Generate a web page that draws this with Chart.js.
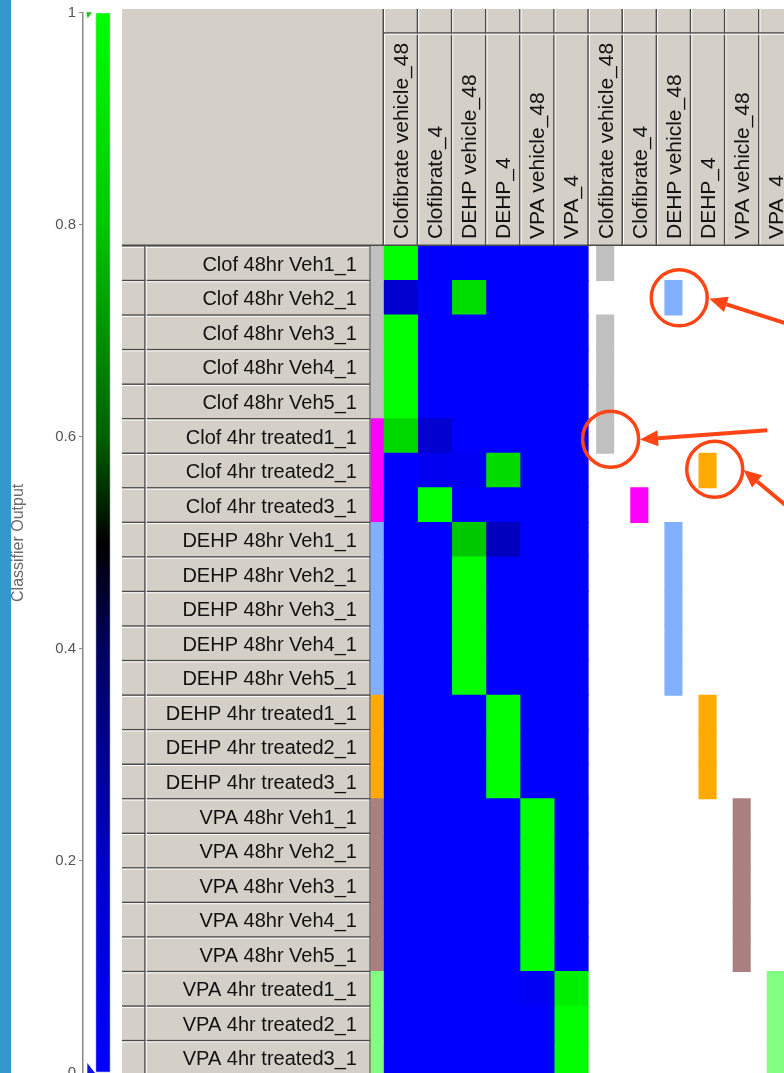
<!DOCTYPE html>
<html>
<head>
<meta charset="utf-8">
<script src="https://cdn.jsdelivr.net/npm/chart.js@4.4.1/dist/chart.umd.min.js"></script>
<style>
  html, body { margin: 0; padding: 0; background: #fff; overflow: hidden; width: 784px; height: 1073px; }
  #edge { position: absolute; left: 0; top: 0; width: 11px; height: 1073px; background: #3399CC; }
  #scale { position: absolute; left: 0; top: 0; }
  #grid { position: absolute; left: 122px; top: 0; }
</style>
</head>
<body>
<div id="edge"></div>
<canvas id="scale" width="122" height="1090"></canvas>
<canvas id="grid" width="700" height="1090"></canvas>
<script>
// ---- samples (rows) ----
const rowLabels = [
  'Clof 48hr Veh1_1', 'Clof 48hr Veh2_1', 'Clof 48hr Veh3_1', 'Clof 48hr Veh4_1', 'Clof 48hr Veh5_1',
  'Clof 4hr treated1_1', 'Clof 4hr treated2_1', 'Clof 4hr treated3_1',
  'DEHP 48hr Veh1_1', 'DEHP 48hr Veh2_1', 'DEHP 48hr Veh3_1', 'DEHP 48hr Veh4_1', 'DEHP 48hr Veh5_1',
  'DEHP 4hr treated1_1', 'DEHP 4hr treated2_1', 'DEHP 4hr treated3_1',
  'VPA 48hr Veh1_1', 'VPA 48hr Veh2_1', 'VPA 48hr Veh3_1', 'VPA 48hr Veh4_1', 'VPA 48hr Veh5_1',
  'VPA 4hr treated1_1', 'VPA 4hr treated2_1', 'VPA 4hr treated3_1'
];

// ---- classes (columns) ----
const classLabels = ['Clofibrate vehicle_48', 'Clofibrate_4', 'DEHP vehicle_48', 'DEHP_4', 'VPA vehicle_48', 'VPA_4'];
const classColors = ['#C0C0C0', '#FF00FF', '#80B0FF', '#FFAA00', '#AA7F7F', '#80FF80'];
const sampleClass = [0, 0, 0, 0, 0, 1, 1, 1, 2, 2, 2, 2, 2, 3, 3, 3, 4, 4, 4, 4, 4, 5, 5, 5];

// ---- classifier output for each class, one value per sample ----
const outClofVeh48 = [1.00, 0.17, 1.00, 1.00, 1.00, 0.86, 0.00, 0.00, 0, 0, 0, 0, 0, 0, 0, 0, 0, 0, 0, 0, 0, 0, 0, 0];
const outClof4     = [0.01, 0.00, 0.00, 0.00, 0.00, 0.17, 0.05, 1.00, 0, 0, 0, 0, 0, 0, 0, 0, 0, 0, 0, 0, 0, 0, 0, 0];
const outDehpVeh48 = [0, 0.88, 0, 0, 0, 0, 0.04, 0, 0.80, 1, 1, 1, 1, 0, 0, 0, 0, 0, 0, 0, 0, 0, 0, 0];
const outDehp4     = [0, 0, 0, 0, 0, 0, 0.87, 0, 0.22, 0, 0, 0, 0, 1, 1, 1, 0, 0, 0, 0, 0, 0, 0, 0];
const outVpaVeh48  = [0, 0, 0, 0, 0, 0, 0, 0, 0, 0, 0, 0, 0, 0, 0, 0, 1, 1, 1, 1, 1, 0.04, 0, 0];
const outVpa4      = [0, 0, 0, 0, 0, 0, 0, 0, 0, 0, 0, 0, 0, 0, 0, 0, 0, 0, 0, 0, 0, 0.94, 1, 1];
const outputs = [outClofVeh48, outClof4, outDehpVeh48, outDehp4, outVpaVeh48, outVpa4];

// ---- colour scale ----
const scaleTicks = [0, 0.2, 0.4, 0.6, 0.8, 1];
const cmapStops  = [0, 0.2, 0.4, 0.5, 0.6, 0.8, 1];
const cmapColors = [[0, 0, 255], [0, 0, 200], [0, 0, 96], [0, 0, 0], [0, 96, 0], [0, 200, 0], [0, 255, 0]];

// ---- call-outs (data units: x = column, y = row index) ----
const calloutRings  = [{ x: 8.67, y: 1.00 }, { x: 6.66, y: 5.09 }, { x: 9.71, y: 5.96 }];
const calloutArrows = [
  { from: { x: 12.21, y: 1.87 }, to: { x: 9.55, y: 1.03 } },
  { from: { x: 11.25, y: 4.83 }, to: { x: 7.52, y: 5.10 } },
  { from: { x: 12.21, y: 7.35 }, to: { x: 10.55, y: 5.98 } }
];

const FONT = "'Liberation Sans', Arial, sans-serif";
const nCls = classLabels.length;
const headerLabels = classLabels.concat(classLabels);
const stripWidth = 0.37;

function cmap(v) {
  for (let i = 1; i < cmapStops.length; i++) {
    if (v <= cmapStops[i]) {
      const t = (v - cmapStops[i - 1]) / (cmapStops[i] - cmapStops[i - 1]);
      const a = cmapColors[i - 1], b = cmapColors[i];
      return 'rgb(' + a.map((c, k) => Math.round(c + (b[k] - c) * t)).join(',') + ')';
    }
  }
  return 'rgb(' + cmapColors[cmapColors.length - 1].join(',') + ')';
}

// predicted class = highest classifier output per sample
const predicted = rowLabels.map((_, r) => {
  let best = 0;
  outputs.forEach((o, k) => { if (o[r] > outputs[best][r]) best = k; });
  return best;
});

const barBase = {
  grouped: false, barPercentage: 1, categoryPercentage: 1,
  borderWidth: 0, borderSkipped: false, inflateAmount: 0.5
};

const datasets = [];
// true-class strip
datasets.push(Object.assign({
  data: sampleClass.map(() => [-stripWidth, 0]),
  backgroundColor: sampleClass.map(k => classColors[k])
}, barBase));
// classifier-output cells
outputs.forEach((o, c) => {
  datasets.push(Object.assign({
    data: o.map(() => [c, c + 1]),
    backgroundColor: o.map(cmap)
  }, barBase));
});
// predicted-class markers
classColors.forEach((col, k) => {
  datasets.push(Object.assign({
    data: predicted.map(p => (p === k ? [nCls + k + 0.25, nCls + k + 0.75] : null)),
    backgroundColor: col
  }, barBase));
});

// grey table chrome behind the labels
const tableChrome = {
  id: 'tableChrome',
  beforeDraw(chart) {
    const { ctx, chartArea: a, scales: { x, y } } = chart;
    const W = chart.width, H = chart.height;
    const dark = '#4a4a4a', light = '#ffffff';
    const top = 9, strip = 33;
    ctx.save();
    ctx.fillStyle = '#D4D0C8';
    ctx.fillRect(0, top, W, a.top - top);
    ctx.fillRect(0, a.top, a.left, H - a.top);

    const x0 = x.getPixelForValue(0);
    // column header cells
    for (let c = 0; c <= 2 * nCls; c++) {
      const px = x.getPixelForValue(c);
      ctx.fillStyle = dark;
      ctx.fillRect(px - 0.75, top, 1.5, a.top - top);
      ctx.fillStyle = light;
      ctx.fillRect(px + 0.75, top, 1, a.top - top);
    }
    ctx.fillStyle = dark;
    ctx.fillRect(x0, strip - 0.75, W - x0, 1.5);
    ctx.fillStyle = light;
    ctx.fillRect(x0 + 1.5, strip + 0.75, W - x0, 1);
    ctx.fillStyle = dark;
    ctx.fillRect(0, a.top - 1.5, W, 1.5);

    // row header cells
    for (let r = 0; r <= rowLabels.length; r++) {
      const py = y.getPixelForValue(r - 0.5);
      ctx.fillStyle = dark;
      ctx.fillRect(0, py - 0.75, a.left, 1.5);
      ctx.fillStyle = light;
      ctx.fillRect(0, py + 0.75, a.left - 1, 1);
    }
    const divX = 23;
    ctx.fillStyle = dark;
    ctx.fillRect(divX - 0.75, a.top, 1.5, H - a.top);
    ctx.fillRect(a.left - 1.2, a.top, 1.2, H - a.top);
    ctx.fillStyle = light;
    ctx.fillRect(divX + 0.75, a.top, 1, H - a.top);
    ctx.restore();
  },
  afterDraw(chart) {
    const { ctx, scales: { x, y } } = chart;
    const red = '#FF4515';
    ctx.save();
    ctx.strokeStyle = red;
    ctx.fillStyle = red;
    ctx.lineWidth = 3.5;
    calloutRings.forEach(p => {
      ctx.beginPath();
      ctx.arc(x.getPixelForValue(p.x), y.getPixelForValue(p.y), 28, 0, Math.PI * 2);
      ctx.stroke();
    });
    calloutArrows.forEach(ar => {
      const fx = x.getPixelForValue(ar.from.x), fy = y.getPixelForValue(ar.from.y);
      const tx = x.getPixelForValue(ar.to.x), ty = y.getPixelForValue(ar.to.y);
      const ang = Math.atan2(ty - fy, tx - fx);
      const headLen = 18, headHalf = 8;
      const bx = tx - headLen * Math.cos(ang), by = ty - headLen * Math.sin(ang);
      ctx.lineWidth = 4;
      ctx.beginPath();
      ctx.moveTo(fx, fy);
      ctx.lineTo(bx, by);
      ctx.stroke();
      ctx.beginPath();
      ctx.moveTo(tx, ty);
      ctx.lineTo(bx + headHalf * Math.sin(ang), by - headHalf * Math.cos(ang));
      ctx.lineTo(bx - headHalf * Math.sin(ang), by + headHalf * Math.cos(ang));
      ctx.closePath();
      ctx.fill();
    });
    ctx.restore();
  }
};

new Chart(document.getElementById('grid'), {
  type: 'bar',
  data: { labels: rowLabels, datasets },
  options: {
    indexAxis: 'y',
    responsive: false,
    animation: false,
    events: [],
    layout: { padding: { top: 0, left: 0, right: 29.1, bottom: 14.8 } },
    plugins: { legend: { display: false }, tooltip: { enabled: false } },
    scales: {
      x: {
        type: 'linear',
        position: 'top',
        min: -stripWidth,
        max: 2 * nCls,
        afterBuildTicks: s => { s.ticks = headerLabels.map((_, i) => ({ value: i + 0.5 })); },
        afterFit: s => { s.height = 246; },
        grid: { display: false, drawTicks: false },
        border: { display: false },
        ticks: {
          autoSkip: false,
          minRotation: 90,
          maxRotation: 90,
          padding: 7,
          labelOffset: 26.8,
          color: '#111',
          font: { family: FONT, size: 21, lineHeight: 1.2 },
          callback: v => headerLabels[Math.floor(v)]
        }
      },
      y: {
        type: 'category',
        offset: true,
        afterFit: s => { s.width = 248.67; s.paddingTop = 0; s.paddingBottom = 0; },
        grid: { display: false, drawTicks: false },
        border: { display: false },
        ticks: {
          autoSkip: false,
          padding: 13.7,
          labelOffset: 2,
          color: '#111',
          font: { family: FONT, size: 20, lineHeight: 1.2 }
        }
      }
    }
  },
  plugins: [tableChrome]
});

// ---- colour scale bar ----
function gradientFill(context) {
  const chart = context.chart;
  if (!chart.chartArea) return '#000';
  const ys = chart.scales.y;
  const g = chart.ctx.createLinearGradient(0, ys.getPixelForValue(0), 0, ys.getPixelForValue(1));
  cmapStops.forEach((s, i) => g.addColorStop(s, 'rgb(' + cmapColors[i].join(',') + ')'));
  return g;
}

const rangeMarkers = {
  id: 'rangeMarkers',
  afterDraw(chart) {
    const { ctx, scales: { y } } = chart;
    const ax = y.right, y1 = y.getPixelForValue(1), y0 = y.getPixelForValue(0);
    ctx.save();
    ctx.fillStyle = '#10C810';
    ctx.beginPath();
    ctx.moveTo(ax + 3.3, y1 - 0.5);
    ctx.lineTo(ax + 9, y1 - 0.5);
    ctx.lineTo(ax + 4.7, y1 + 5.5);
    ctx.closePath();
    ctx.fill();
    ctx.fillStyle = '#1010E0';
    ctx.beginPath();
    ctx.moveTo(ax + 4.3, y0 - 10);
    ctx.lineTo(ax + 4.3, y0);
    ctx.lineTo(ax + 12, y0);
    ctx.closePath();
    ctx.fill();
    ctx.restore();
  }
};

new Chart(document.getElementById('scale'), {
  type: 'bar',
  data: {
    datasets: [{
      data: [{ x: 20.5, y: [0, 1] }],
      backgroundColor: gradientFill,
      borderColor: 'rgba(0,0,0,0.15)',
      borderWidth: 1,
      borderSkipped: false,
      barThickness: 15
    }]
  },
  options: {
    responsive: false,
    animation: false,
    events: [],
    layout: { padding: { left: 9, top: 12.7, bottom: 17, right: 0 } },
    plugins: { legend: { display: false }, tooltip: { enabled: false } },
    scales: {
      x: { type: 'linear', min: 0, max: 39, display: false },
      y: {
        type: 'linear',
        min: 0,
        max: 1,
        afterBuildTicks: s => { s.ticks = scaleTicks.map(v => ({ value: v })); },
        afterFit: s => { s.width = 74; },
        grid: { drawOnChartArea: false, drawTicks: true, tickLength: 4, color: '#888', lineWidth: 1 },
        border: { display: true, color: '#888', width: 1.5 },
        ticks: {
          padding: 3,
          color: '#555',
          font: { family: FONT, size: 15 },
          callback: v => String(+v.toFixed(1))
        },
        title: {
          display: true,
          text: 'Classifier Output',
          color: '#6a6a6a',
          padding: 0,
          font: { family: FONT, size: 16 }
        }
      }
    }
  },
  plugins: [rangeMarkers]
});
</script>
</body>
</html>
